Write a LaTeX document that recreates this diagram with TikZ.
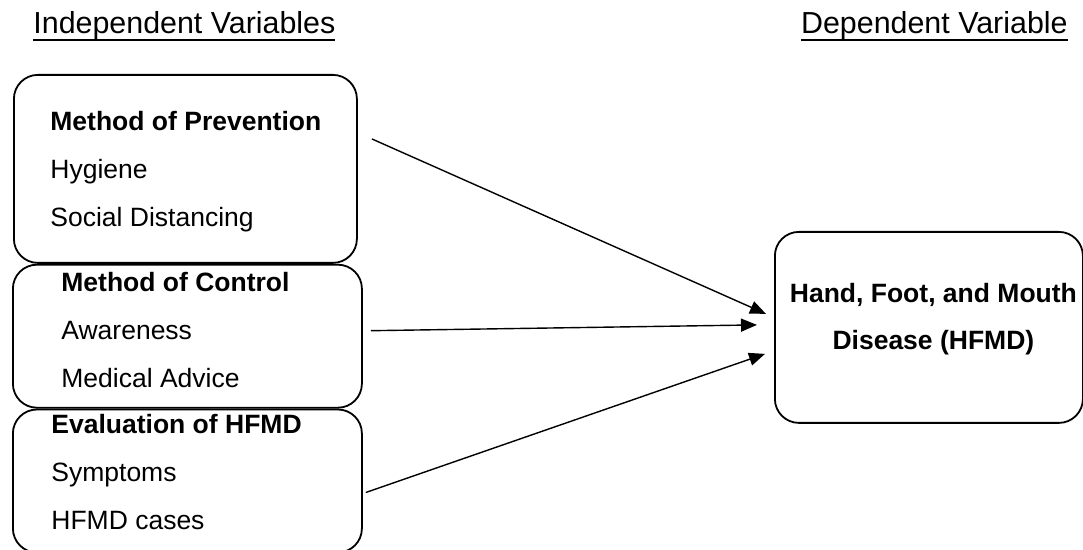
\documentclass[tikz,border=0pt]{standalone}
\usepackage{fontspec}
\setmainfont{Liberation Sans}
\usetikzlibrary{arrows.meta, positioning, calc}
\newcommand{\ulhead}[1]{\setbox0=\hbox{#1}\rlap{\copy0}\raisebox{-3.5pt}{\rule{\wd0}{0.9pt}}}

\begin{document}
\begin{tikzpicture}[
    varbox/.style={
        rectangle, rounded corners=12pt, draw=black, line width=0.9pt,
        inner sep=0pt
    },
    itemtext/.style={
        inner sep=0pt, align=left, anchor=base west,
        font=\fontsize{13.25}{24}\selectfont
    },
    heading/.style={inner sep=0pt, font=\fontsize{15.2}{18}\selectfont},
    arrow/.style={-{Triangle[length=8pt, width=6.5pt]}, line width=0.7pt, draw=black}
]
\useasboundingbox (0,0) rectangle (541.5pt,-275pt);

% Headings
\node[heading, anchor=base west] (indep) at (16.5pt,-17pt) {\ulhead{Independent Variables}};
\node[heading, anchor=base east] (dep) at (534pt,-17pt) {\ulhead{Dependent Variable}};

% Independent variables
\node[varbox, minimum width=171.5pt, minimum height=94pt, anchor=north west] (prev) at (6.5pt,-37pt) {};
\node[varbox, minimum width=174.5pt, minimum height=71.5pt, below=0pt of prev.south west, anchor=north west, xshift=-0.5pt] (ctrl) {};
\node[varbox, minimum width=174.5pt, minimum height=71.5pt, below=0pt of ctrl] (eval) {};

% base = last line
\node[itemtext] (prevtext) at ([shift={(18.5pt,-76.5pt)}]prev.north west) {\textbf{Method of Prevention}\\Hygiene\\Social Distancing};
\node[itemtext] (ctrltext) at ([shift={(24.5pt,-62pt)}]ctrl.north west) {\textbf{Method of Control}\\Awareness\\Medical Advice};
\node[itemtext] (evaltext) at ([shift={(19.5pt,-60.5pt)}]eval.north west) {\textbf{Evaluation of HFMD}\\Symptoms\\HFMD cases};

% Dependent variable
\node[varbox, minimum width=154pt, minimum height=95.5pt, anchor=north west] (hfmd) at (387pt,-115.5pt) {};
\node[font=\bfseries\fontsize{13.25}{23.5}\selectfont, align=center, inner sep=0pt, anchor=base] (hfmdtext) at ($(hfmd.north)+(2.25pt,-59.5pt)$) {Hand, Foot, and Mouth\\Disease (HFMD)};

% Arrows
\draw[arrow] ([shift={(7pt,15pt)}]prev.east) -- ([shift={(-4pt,6.75pt)}]hfmd.west);
\draw[arrow] ([shift={(4pt,2.75pt)}]ctrl.east) -- ([shift={(-8.5pt,1.25pt)}]hfmd.west);
\draw[arrow] ([shift={(1.5pt,-5.75pt)}]eval.east) -- ([shift={(-4.5pt,-13.25pt)}]hfmd.west);

\end{tikzpicture}
\end{document}
